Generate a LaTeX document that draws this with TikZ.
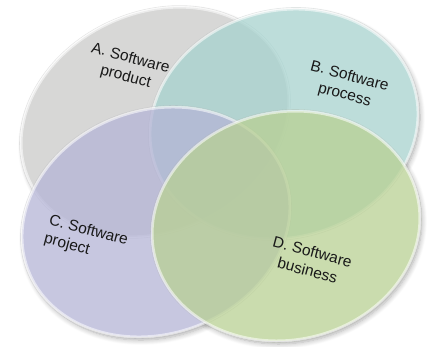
\documentclass[tikz,border=0pt]{standalone}
\usepackage{fontspec}
\setmainfont{Liberation Sans}
\usetikzlibrary{shadows.blur}
\definecolor{discA}{RGB}{202,202,200}
\definecolor{discB}{RGB}{166,210,206}
\definecolor{discC}{RGB}{180,180,214}
\definecolor{discD}{RGB}{184,208,146}
\begin{document}
\begin{tikzpicture}[x=1pt,y=-1pt,
  shapeA/.style={x radius=138.8pt, y radius=109pt, rotate=25},
  shapeB/.style={x radius=135.4pt, y radius=113.4pt, rotate=15},
  shapeC/.style={x radius=136.7pt, y radius=111.8pt, rotate=20},
  shapeD/.style={x radius=134.8pt, y radius=114pt, rotate=12},
  disc/.style={fill=#1, fill opacity=0.74, draw=white, draw opacity=0.55, line width=3pt},
  rim/.style={draw=#1!55!black, draw opacity=0.16, line width=0.6pt},
  drop/.style={blur shadow={shadow xshift=2pt, shadow yshift=-3pt, shadow blur radius=5pt, shadow blur steps=8, shadow opacity=32}},
  lbl/.style={font=\fontsize{15.5}{19}\selectfont, rotate=-15, text=black!90}]
\useasboundingbox (0,0) rectangle (429,346);

% centres of the four discs
\coordinate (cA) at (155,122);
\coordinate (cB) at (284,124);
\coordinate (cC) at (156,222);
\coordinate (cD) at (286,226);

% soft drop shadows
\path[drop] (cA) ellipse [shapeA];
\path[drop] (cB) ellipse [shapeB];
\path[drop] (cC) ellipse [shapeC];
\path[drop] (cD) ellipse [shapeD];

% opaque white base so the shadows stay outside
\fill[white] (cA) ellipse [shapeA];
\fill[white] (cB) ellipse [shapeB];
\fill[white] (cC) ellipse [shapeC];
\fill[white] (cD) ellipse [shapeD];

% translucent discs with a faint outer edge
\path[disc=discA] (cA) ellipse [shapeA];
\path[rim=discA]  (cA) ellipse [shapeA, x radius=140.3pt, y radius=110.5pt];
\path[disc=discB] (cB) ellipse [shapeB];
\path[rim=discB]  (cB) ellipse [shapeB, x radius=136.9pt, y radius=114.9pt];
\path[disc=discC] (cC) ellipse [shapeC];
\path[rim=discC]  (cC) ellipse [shapeC, x radius=138.2pt, y radius=113.3pt];
\path[disc=discD] (cD) ellipse [shapeD];
\path[rim=discD]  (cD) ellipse [shapeD, x radius=136.3pt, y radius=115.5pt];

% labels
\node[lbl, align=center] (tA) at (128,68) {A. Software\\product};
\node[lbl, align=center] (tB) at (347,86) {B. Software\\process};
\node[lbl, align=left]   (tC) at (86,240) {C. Software\\project};
\node[lbl, align=center] (tD) at (310,261) {D. Software\\business};
\end{tikzpicture}
\end{document}
